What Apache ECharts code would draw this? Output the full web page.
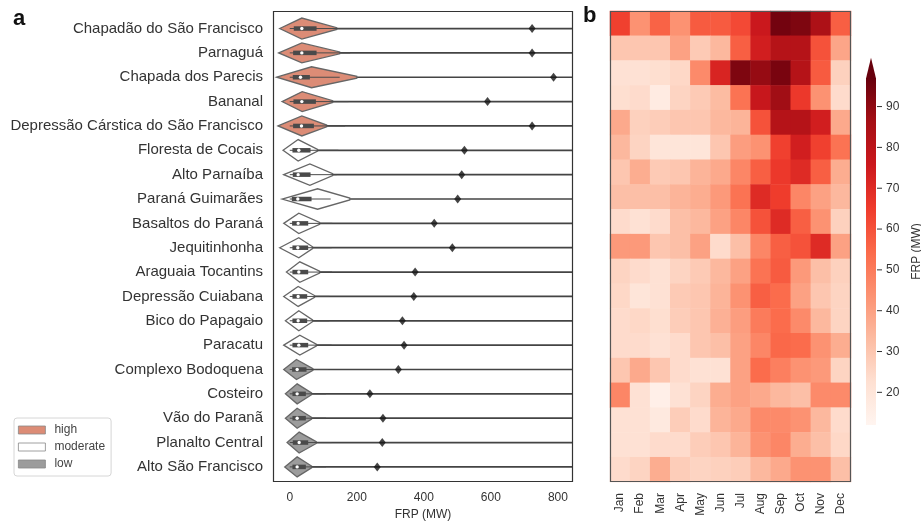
<!DOCTYPE html>
<html>
<head>
<meta charset="utf-8">
<script src="https://cdn.jsdelivr.net/npm/echarts@6/dist/echarts.min.js"></script>
<style>
html, body { margin: 0; background: #fff; }
#chart { width: 921px; height: 526px; }
</style>
</head>
<body>
<div id="chart"></div>
<script>
// regions, top to bottom
var regions = ['Chapadão do São Francisco', 'Parnaguá', 'Chapada dos Parecis', 'Bananal',
    'Depressão Cárstica do São Francisco', 'Floresta de Cocais', 'Alto Parnaíba', 'Paraná Guimarães',
    'Basaltos do Paraná', 'Jequitinhonha', 'Araguaia Tocantins', 'Depressão Cuiabana',
    'Bico do Papagaio', 'Paracatu', 'Complexo Bodoquena', 'Costeiro', 'Vão do Paranã',
    'Planalto Central', 'Alto São Francisco'];
var fireClass = ['high', 'high', 'high', 'high', 'high',
    'moderate', 'moderate', 'moderate', 'moderate', 'moderate', 'moderate', 'moderate', 'moderate', 'moderate',
    'low', 'low', 'low', 'low', 'low'];
var classNames = ['high', 'moderate', 'low'];

// max FRP per region (black diamonds)
var maxFrp = [723, 723, 787, 590, 723, 521, 513, 501, 431, 485, 374, 370, 336, 341, 324, 239, 278, 276, 261];

// violin outline: left tip, mode, end of body (MW), half width (in rows)
var kdeLeft = [-30, -33, -39, -23, -35, -20, -18, -23, -18, -30, -10, -18, -13, -18, -18, -13, -13, -8, -15];
var kdeMode = [36, 36, 65, 37, 36, 25, 60, 83, 27, 27, 30, 25, 27, 30, 20, 22, 22, 28, 22];
var kdeRight = [140, 149, 200, 128, 110, 83, 128, 179, 89, 68, 89, 74, 68, 79, 69, 65, 65, 79, 65];
var kdeHalf = [0.43, 0.41, 0.43, 0.41, 0.41, 0.44, 0.44, 0.42, 0.42, 0.41, 0.42, 0.41, 0.41, 0.41, 0.41, 0.41, 0.41, 0.43, 0.41];

// inner box
var boxQ1 = [12, 10, 9, 11, 10, 8, 9, 6, 7, 8, 8, 8, 8, 8, 7, 8, 8, 9, 8];
var boxMedian = [36, 36, 32, 36, 35, 27, 25, 24, 25, 24, 27, 25, 25, 27, 22, 22, 22, 28, 22];
var boxQ3 = [80, 80, 60, 78, 72, 62, 62, 65, 55, 55, 55, 52, 52, 55, 50, 48, 48, 55, 48];
var whiskerHigh = [180, 180, 149, 175, 165, 145, 140, 122, 127, 125, 126, 118, 118, 125, 115, 108, 108, 125, 108];

var months = ['Jan', 'Feb', 'Mar', 'Apr', 'May', 'Jun', 'Jul', 'Aug', 'Sep', 'Oct', 'Nov', 'Dec'];

// mean FRP (MW) per region and month
var monthlyFrp = [
    [64, 44, 56, 44, 58, 58, 62, 76, 95, 93, 84, 57],
    [30, 30, 30, 40, 29, 34, 57, 74, 82, 82, 60, 39],
    [22, 22, 23, 25, 46, 72, 93, 89, 94, 82, 58, 27],
    [23, 24, 17, 26, 29, 33, 52, 77, 87, 66, 44, 24],
    [38, 27, 28, 30, 30, 34, 35, 60, 82, 82, 74, 38],
    [34, 26, 20, 20, 20, 30, 41, 44, 64, 74, 64, 52],
    [30, 37, 29, 30, 35, 38, 47, 57, 66, 70, 57, 37],
    [32, 32, 32, 35, 37, 42, 52, 70, 65, 47, 40, 34],
    [24, 22, 24, 32, 34, 40, 47, 60, 70, 57, 44, 27],
    [42, 42, 30, 32, 40, 24, 32, 47, 57, 60, 70, 40],
    [26, 24, 22, 26, 29, 34, 40, 52, 58, 42, 32, 27],
    [25, 20, 22, 29, 30, 35, 44, 57, 54, 40, 30, 26],
    [24, 25, 23, 28, 30, 36, 41, 50, 54, 46, 34, 26],
    [24, 24, 22, 24, 30, 32, 40, 47, 55, 54, 44, 37],
    [30, 38, 30, 24, 22, 22, 40, 54, 49, 44, 42, 26],
    [47, 22, 15, 22, 26, 37, 40, 38, 34, 32, 46, 46],
    [22, 22, 18, 28, 24, 35, 38, 46, 46, 44, 34, 24],
    [22, 22, 24, 24, 28, 30, 35, 44, 47, 37, 32, 25],
    [24, 26, 37, 28, 26, 27, 28, 34, 38, 44, 44, 32]
];

var frpTicks = [0, 200, 400, 600, 800];
var colorTicks = [20, 30, 40, 50, 60, 70, 80, 90];
var colorMin = 12;
var colorMax = 97;
var redsColors = ['#fff5f0', '#fee0d2', '#fcbba1', '#fc9272', '#fb6a4a', '#ef3b2c', '#cb181d', '#a50f15', '#67000d'];
var classColors = { high: '#dc8c76', moderate: '#ffffff', low: '#9c9c9c' };

var rowIdx = regions.map(function (r, i) { return i; });
var FONT = '"Liberation Sans", Arial, sans-serif';

var chart = echarts.init(document.getElementById('chart'));

function renderViolin(params, api) {
    var row = api.value(0);
    var left = api.coord([api.value(1), row]);
    var mode = api.coord([api.value(2), row]);
    var right = api.coord([api.value(3), row]);
    var half = api.size([0, api.value(4)])[1];
    var q1 = api.coord([api.value(5), row]);
    var med = api.coord([api.value(6), row]);
    var q3 = api.coord([api.value(7), row]);
    var whi = api.coord([api.value(8), row]);
    var lo = api.coord([0, row]);
    var cs = params.coordSys;
    var cy = left[1];
    return {
        type: 'group',
        children: [
            { type: 'line', shape: { x1: right[0] - 2, y1: cy, x2: cs.x + cs.width, y2: cy },
              style: { stroke: '#444', lineWidth: 1.7 } },
            { type: 'polygon',
              shape: { points: [[left[0], cy], [mode[0], cy - half], [right[0], cy - 0.9],
                                [right[0], cy + 0.9], [mode[0], cy + half]] },
              style: { fill: api.visual('color'), stroke: '#666', lineWidth: 1.3 } },
            { type: 'line', shape: { x1: lo[0], y1: cy, x2: whi[0], y2: cy },
              style: { stroke: '#4a4a4a', lineWidth: 1 } },
            { type: 'line', shape: { x1: q1[0], y1: cy, x2: q3[0], y2: cy },
              style: { stroke: '#4a4a4a', lineWidth: 4.5 } },
            { type: 'circle', shape: { cx: med[0], cy: cy, r: 1.7 }, style: { fill: '#fff' } }
        ]
    };
}

function violinSeries(cls) {
    var rows = [];
    rowIdx.forEach(function (i) {
        if (fireClass[i] !== cls) return;
        rows.push([i, kdeLeft[i], kdeMode[i], kdeRight[i], kdeHalf[i],
            boxQ1[i], boxMedian[i], boxQ3[i], whiskerHigh[i]]);
    });
    return {
        name: cls,
        type: 'custom',
        xAxisIndex: 0,
        yAxisIndex: 0,
        z: 3,
        silent: true,
        itemStyle: { color: classColors[cls], borderColor: '#777', borderWidth: 1 },
        encode: { x: [1, 2, 3], y: 0 },
        data: rows,
        renderItem: renderViolin
    };
}

function frameSeries(idx, color) {
    return {
        type: 'custom',
        xAxisIndex: idx,
        yAxisIndex: idx,
        z: 10,
        silent: true,
        data: [[0, 0]],
        renderItem: function (params) {
            var cs = params.coordSys;
            return {
                type: 'rect',
                shape: { x: cs.x + 0.5, y: cs.y + 0.5, width: cs.width - 1, height: cs.height - 1 },
                style: { fill: 'none', stroke: color, lineWidth: 1.2 }
            };
        }
    };
}

var heatData = [];
monthlyFrp.forEach(function (vals, i) {
    vals.forEach(function (v, j) {
        heatData.push([j, i, v]);
    });
});

var gradStops = redsColors.map(function (c, k) {
    return { offset: 1 - k / (redsColors.length - 1), color: c };
}).reverse();

var option = {
    backgroundColor: '#fff',
    animation: false,
    textStyle: { fontFamily: FONT },
    grid: [
        { left: 273, top: 11, width: 300, height: 471, outerBoundsMode: 'none' },
        { left: 610, top: 11, width: 241, height: 471, outerBoundsMode: 'none' },
        { left: 866, top: 78, width: 10, height: 347, outerBoundsMode: 'none' }
    ],
    xAxis: [
        {
            gridIndex: 0, type: 'value', min: -50, max: 845,
            name: 'FRP (MW)', nameLocation: 'middle', nameGap: 27,
            nameTextStyle: { fontSize: 12, color: '#333' },
            axisLine: { show: false }, axisTick: { show: false }, splitLine: { show: false },
            axisLabel: { customValues: frpTicks, fontSize: 12, color: '#333', margin: 10 }
        },
        {
            gridIndex: 1, type: 'category', data: months,
            axisLine: { show: false }, axisTick: { show: false },
            axisLabel: { rotate: 90, fontSize: 12, color: '#333', margin: 11, interval: 0 }
        },
        { gridIndex: 2, type: 'value', min: 0, max: 1, show: false }
    ],
    yAxis: [
        {
            gridIndex: 0, type: 'value', min: -0.72, max: 18.62, inverse: true,
            axisLine: { show: false }, axisTick: { show: false }, splitLine: { show: false },
            axisLabel: {
                customValues: rowIdx, fontSize: 15, color: '#333', margin: 10,
                formatter: function (v) { return regions[Math.round(v)]; }
            }
        },
        {
            gridIndex: 1, type: 'category', data: regions, inverse: true,
            axisLine: { show: false }, axisTick: { show: false }, axisLabel: { show: false }
        },
        {
            gridIndex: 2, type: 'value', min: colorMin, max: colorMax, position: 'right',
            name: 'FRP (MW)', nameLocation: 'middle', nameRotate: 90, nameGap: 35,
            nameTextStyle: { fontSize: 12, color: '#333' },
            axisLine: { show: false }, splitLine: { show: false }, axisTick: { show: false },
            axisLabel: { customValues: colorTicks, fontSize: 12, color: '#333', margin: 10 }
        }
    ],
    visualMap: {
        type: 'continuous', show: false, seriesIndex: 4, dimension: 2,
        min: colorMin, max: colorMax,
        inRange: { color: redsColors }
    },
    legend: {
        data: classNames.map(function (n) { return { name: n, icon: 'rect' }; }),
        orient: 'vertical', left: 14, top: 418,
        itemWidth: 27, itemHeight: 8, itemGap: 3,
        itemStyle: { borderColor: '#888', borderWidth: 0.8 },
        textStyle: { fontSize: 12, color: '#444', lineHeight: 14, padding: [0, 0, 0, 4] },
        backgroundColor: '#fff', borderColor: '#d6d6d6', borderWidth: 1, borderRadius: 3,
        padding: [5, 6, 5, 4]
    },
    graphic: [
        { type: 'text', left: 13, top: 8, style: { text: 'a', font: 'bold 22px ' + FONT, fill: '#111' } },
        { type: 'text', left: 583, top: 5, style: { text: 'b', font: 'bold 22px ' + FONT, fill: '#111' } }
    ],
    series: [
        violinSeries('high'),
        violinSeries('moderate'),
        violinSeries('low'),
        {
            type: 'scatter', xAxisIndex: 0, yAxisIndex: 0, z: 6, silent: true,
            symbol: 'diamond', symbolSize: [7, 9],
            itemStyle: { color: '#151515' },
            data: maxFrp.map(function (v, i) { return [v, i]; })
        },
        {
            type: 'heatmap', xAxisIndex: 1, yAxisIndex: 1, silent: true,
            data: heatData
        },
        {
            // colour bar with extend-max triangle and ticks
            type: 'custom', xAxisIndex: 2, yAxisIndex: 2, silent: true,
            data: [[0, colorMin, colorMax]],
            renderItem: function (params, api) {
                var lo = api.coord([0, api.value(1)]);
                var hi = api.coord([1, api.value(2)]);
                var w = hi[0] - lo[0];
                var tri = (lo[1] - hi[1]) * 0.058;
                var kids = [
                    { type: 'rect', shape: { x: lo[0], y: hi[1], width: w, height: lo[1] - hi[1] },
                      style: { fill: new echarts.graphic.LinearGradient(0, 0, 0, 1, gradStops) } },
                    { type: 'polygon',
                      shape: { points: [[lo[0], hi[1] + 0.5], [hi[0], hi[1] + 0.5], [(lo[0] + hi[0]) / 2, hi[1] - tri]] },
                      style: { fill: redsColors[redsColors.length - 1] } }
                ];
                colorTicks.forEach(function (t) {
                    var p = api.coord([1, t]);
                    kids.push({ type: 'line', shape: { x1: p[0] + 1, y1: p[1], x2: p[0] + 6, y2: p[1] },
                                style: { stroke: '#333', lineWidth: 1 } });
                });
                return { type: 'group', children: kids };
            }
        },
        frameSeries(0, '#333'),
        frameSeries(1, '#555')
    ]
};

chart.setOption(option);
</script>
</body>
</html>
